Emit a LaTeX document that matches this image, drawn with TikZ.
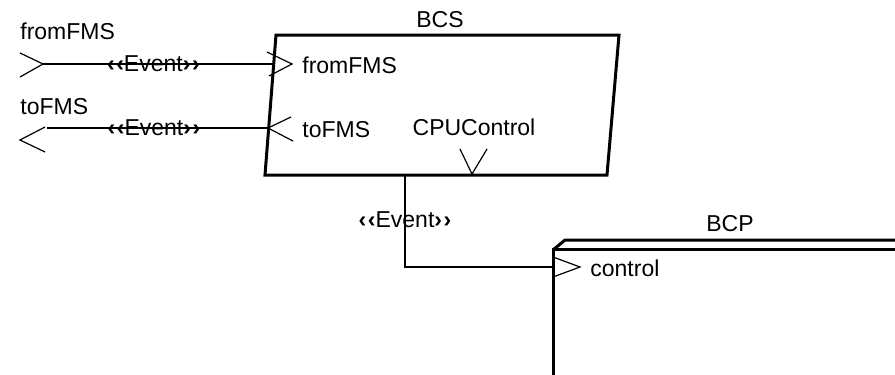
\documentclass[tikz,border=0pt]{standalone}
\usepackage{fontspec}
\setmainfont{Liberation Sans}
\usetikzlibrary{positioning}

\newcommand{\evt}{{\bfseries ‹\kern0.8pt‹}Event{\bfseries ›\kern0.8pt›}}

\begin{document}
\begin{tikzpicture}[x=0.5pt,y=-0.5pt,font=\fontsize{11.5}{13}\selectfont,
    block/.style={line width=1.5pt,line join=miter},
    wire/.style={line width=0.6pt},
    port/.style={line width=0.6pt},
    lbl/.style={inner sep=0pt},
    stereo/.style={inner sep=0pt}]
    \clip (0,0) rectangle (895,375);
    \fill[white] (0,0) rectangle (895,375);

    % BCS block
    \draw[block] (276,35) -- (619,35) -- (607,175) -- (265,175) -- cycle;
    \node[lbl] (bcs) at (440,20) {BCS};

    % ports of BCS
    \draw[port] (267,52) -- (292,64) -- (269,76);
    \coordinate (in1) at (273,64);
    \node[lbl,anchor=west] (in1 label) at (302,65) {fromFMS};
    \draw[port] (291,117) -- (268,128) -- (293,141);
    \coordinate (out1) at (268,128);
    \node[lbl,anchor=west] (out1 label) at (302,130) {toFMS};
    \node[lbl] (cpu label) at (474,127) {CPUControl};
    \draw[port] (460,149) -- (472,174) -- (487,149);
    \coordinate (cpu) at (405,175);

    % outer ports
    \draw[port] (20,53) -- (43,64) -- (20,77);
    \coordinate (ext in) at (43,64);
    \node[lbl,anchor=west] (ext in label) at (20,31) {fromFMS};
    \draw[port] (45,127) -- (20,140) -- (45,152);
    \coordinate (ext out) at (47,128);
    \node[lbl,anchor=west] (ext out label) at (20,107) {toFMS};

    % BCP block
    \draw[block] (553,400) -- (553,249) -- (896,249) -- (896,400);
    \draw[block] (553,250) -- (565,240) -- (900,240);
    \node[lbl] (bcp) at (730,224) {BCP};
    \draw[port] (553,257) -- (580,267) -- (553,277);
    \coordinate (ctrl) at (553,267);
    \node[lbl,anchor=west] (ctrl label) at (590,268) {control};

    % connectors
    \draw[wire] (ext in) -- (in1) node[stereo,pos=0.48] {\evt};
    \draw[wire] (ext out) -- (out1) node[stereo,pos=0.484] {\evt};
    \draw[wire] (cpu) |- (ctrl) node[stereo,pos=0.245] {\evt};
\end{tikzpicture}
\end{document}
